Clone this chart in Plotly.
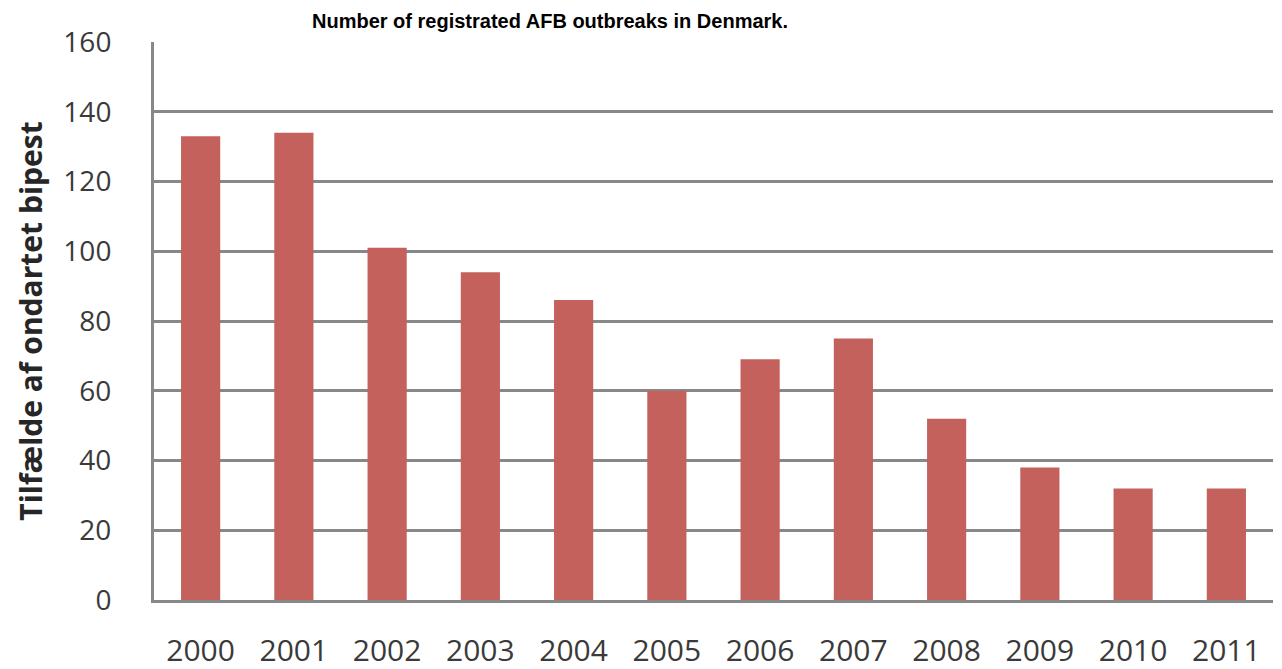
import plotly.graph_objects as go

# Registered AFB (American foulbrood) outbreaks per year in Denmark
years = ["2000", "2001", "2002", "2003", "2004", "2005",
         "2006", "2007", "2008", "2009", "2010", "2011"]
outbreaks = [133, 134, 101, 94, 86, 60, 69, 75, 52, 38, 32, 32]

y_ticks = [0, 20, 40, 60, 80, 100, 120, 140, 160]

bar_color = "#C4615C"
grid_color = "#888888"
label_family = "Open Sans, DejaVu Sans, sans-serif"

fig = go.Figure(
    go.Bar(
        x=years,
        y=outbreaks,
        marker=dict(color=bar_color, line=dict(width=0)),
        hoverinfo="x+y",
    )
)

fig.update_layout(
    width=1282,
    height=669,
    margin=dict(l=154, r=9, t=42, b=69),
    paper_bgcolor="white",
    plot_bgcolor="white",
    bargap=0.58,
    showlegend=False,
    title=dict(
        text="<b>Number of registrated AFB outbreaks in Denmark.</b>",
        font=dict(family="Liberation Sans, Arial, sans-serif", size=20, color="black"),
        x=550 / 1282,
        xanchor="center",
        xref="container",
        y=1 - 21 / 669,
        yanchor="middle",
        yref="container",
    ),
)

fig.update_xaxes(
    type="category",
    automargin=False,
    showgrid=False,
    showline=True,
    linecolor=grid_color,
    linewidth=3,
    ticks="",
    tickfont=dict(family=label_family, size=30, color="#3A3A3A"),
    ticklabelstandoff=22,
)

fig.update_yaxes(
    range=[0, 160],
    tickvals=y_ticks,
    automargin=False,
    showgrid=True,
    gridcolor=grid_color,
    gridwidth=3,
    zeroline=False,
    showline=True,
    linecolor=grid_color,
    linewidth=3,
    ticks="",
    tickfont=dict(family=label_family, size=28, color="#3A3A3A"),
    ticklabelstandoff=34,
    title=dict(
        text="<b>Tilfælde af ondartet bipest</b>",
        font=dict(family=label_family, size=30, color="#262626"),
        standoff=12,
    ),
)

fig.write_html("out.html")
